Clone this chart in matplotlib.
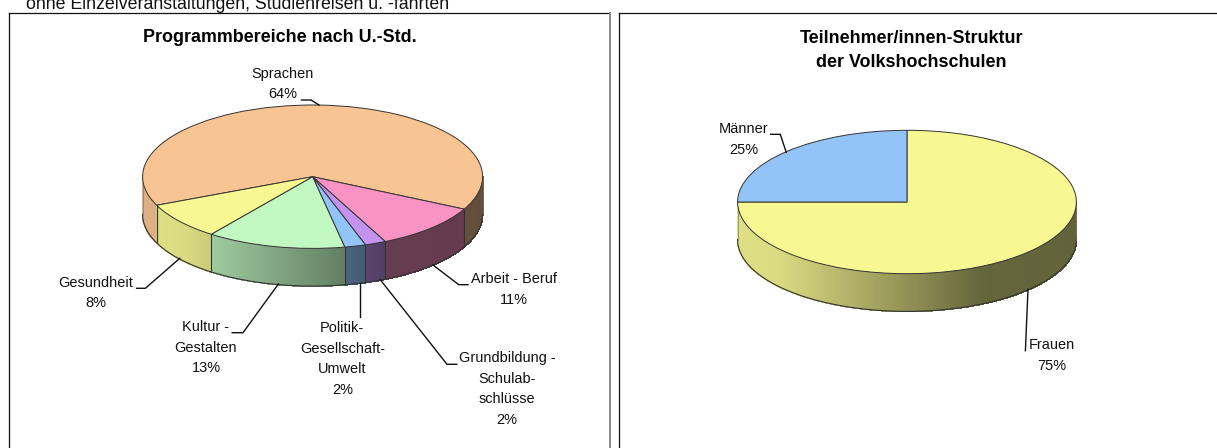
"""
Two 3D-look pie charts (Volkshochschulen), drawn in matplotlib.
Pie tops use ax.pie, the rims are thin shaded strips under them.
"""

import numpy as np
import matplotlib
matplotlib.use("Agg")
import matplotlib.pyplot as plt
from matplotlib.collections import PolyCollection
from matplotlib.colors import to_rgb

# left pie
prog_names = ["Sprachen", "Arbeit - Beruf", "Grundbildung -\nSchulab-\nschlüsse",
              "Politik-\nGesellschaft-\nUmwelt", "Kultur -\nGestalten", "Gesundheit"]
prog_shares = [64.0, 10.5, 2.0, 2.0, 13.2, 8.3]
prog_pct = [64, 11, 2, 2, 13, 8]
prog_colors = ["#F8C493", "#F893C4", "#C493F0", "#93C4F8", "#C2F8C2", "#F8F893"]

# right pie
tn_names = ["Frauen", "Männer"]
tn_shares = [75, 25]
tn_colors = ["#F8F893", "#93C4F8"]

W, H = 1217, 448
FONT = "Liberation Sans"
LABEL_PX = 14.5
DEPTH = 37.7
RX, RY = 170, 71.7
EDGE = "#333333"

plt.rcParams["font.family"] = FONT
fig = plt.figure(figsize=(W / 100, H / 100), dpi=100, facecolor="white")


def px(size):
    return size * 72 / fig.dpi


def shade(x):
    """Rim brightness, light on the left and dark on the right."""
    return np.interp(x, [-1, -0.75, 0.45, 1], [0.9, 0.88, 0.41, 0.4])


def draw_pie(cx, cy, rx, shares, colors, start):
    margin = 1.2
    d = DEPTH / RY
    left = (cx - margin * rx) / W
    bottom = 1 - (cy + margin * RY + DEPTH) / H
    ax = fig.add_axes([left, bottom, 2 * margin * rx / W, (2 * margin * RY + DEPTH) / H])
    ax.pie(shares, colors=colors, startangle=start, counterclock=False, radius=1,
           wedgeprops=dict(edgecolor=EDGE, linewidth=0.7))
    for w in ax.patches:
        w.set_zorder(3)

    ends = start - np.cumsum(shares) * 3.6
    begins = np.r_[start, ends[:-1]]
    polys, faces, cuts = [], [], []
    for a1, a0, col in zip(begins, ends, colors):
        rgb = np.array(to_rgb(col))
        for shift in (0, -360):
            lo, hi = max(a0 + shift, -180), min(a1 + shift, 0)
            if hi <= lo:
                continue
            t = np.radians(np.arange(lo, hi + 0.75, 0.75).clip(lo, hi))
            for t0, t1 in zip(t[:-1], t[1:]):
                x0, x1 = np.cos(t0), np.cos(t1)
                y0, y1 = np.sin(t0), np.sin(t1)
                polys.append([(x0, y0), (x1, y1), (x1, y1 - d), (x0, y0 - d)])
                faces.append(rgb * shade((x0 + x1) / 2))
        for a in (a0, a1):
            if -180 < ((a + 180) % 360) - 180 < 0:
                cuts.append(np.radians(a))
    ax.add_collection(PolyCollection(polys, facecolors=faces, edgecolors=faces,
                                     linewidths=0.6, antialiaseds=False, zorder=1))
    for a in set(cuts):
        ax.plot([np.cos(a)] * 2, [np.sin(a), np.sin(a) - d], color=EDGE, lw=0.8, zorder=2)
    arc = np.radians(np.linspace(-180, 0, 240))
    ax.plot(np.cos(arc), np.sin(arc) - d, color=EDGE, lw=0.8, zorder=2)
    for x in (-1, 1):
        ax.plot([x, x], [0, -d], color="#777777", lw=0.5, zorder=2)

    ax.set_aspect("auto")
    ax.set_xlim(-margin, margin)
    ax.set_ylim(-margin - d, margin)


draw_pie(312.6, 176.7, RX, prog_shares, prog_colors, 203.5)
draw_pie(907, 202, 169.4, tn_shares, tn_colors, 90)

# overlay in picture pixels for frames, titles, labels and leaders
ov = fig.add_axes([0, 0, 1, 1], zorder=5)
ov.set_xlim(0, W)
ov.set_ylim(H, 0)
ov.axis("off")

ov.plot([9, 9], [13.3, H], color="#111111", lw=0.9)
ov.plot([9, 609], [13.3, 13.3], color="#111111", lw=0.9)
ov.plot([609.5, 609.5], [13.3, H], color="#888888", lw=1.4)
ov.plot([618.5, 618.5], [13.3, H], color="#111111", lw=0.9)
ov.plot([618.5, W], [13.3, 13.3], color="#111111", lw=0.9)

ov.text(26, 9, "ohne Einzelveranstaltungen, Studienreisen u. -fahrten",
        fontsize=px(17.7), va="baseline", ha="left", color="#111111")
ov.text(280, 37.7, "Programmbereiche nach U.-Std.", fontsize=px(17.9),
        fontweight="bold", ha="center", va="center", color="black")
ov.text(911, 38.3, "Teilnehmer/innen-Struktur", fontsize=px(17.9),
        fontweight="bold", ha="center", va="center", color="black")
ov.text(911, 62.3, "der Volkshochschulen", fontsize=px(17.9),
        fontweight="bold", ha="center", va="center", color="black")


def label(name, pct, x, y, step=20.4):
    lines = name.split("\n") + [f"{pct}%"]
    for i, line in enumerate(lines):
        ov.text(x, y + i * step, line, fontsize=px(LABEL_PX), ha="center", va="center",
                color="#111111")


label_pos = [(283, 74), (514, 279.3), (507, 358.3), (342.3, 328.3), (206, 327.3), (95.8, 282.7)]
for name, pct, (x, y) in zip(prog_names, prog_pct, label_pos):
    label(name, pct, x, y)
label(tn_names[0], tn_shares[0], 1051.7, 345.3)
label(tn_names[1], tn_shares[1], 743.6, 129.3)

leaders = [
    [(301.5, 100), (311, 100), (319, 105)],
    [(433, 265), (458.8, 284.7), (468, 284.7)],
    [(380.5, 280), (447, 364.3), (456.8, 364.3)],
    [(360, 282.7), (360, 317.3)],
    [(232.2, 332.7), (243, 332.7), (278.4, 284)],
    [(136.6, 288.3), (145.4, 288.3), (179.8, 258.3)],
    [(770.7, 134.3), (780.3, 134.3), (786.2, 152.3)],
    [(1025.4, 350.7), (1028, 289.3)],
]
for pts in leaders:
    xs, ys = zip(*pts)
    ov.plot(xs, ys, color="#111111", lw=1.0, solid_joinstyle="miter")

fig.savefig("out.png", dpi=100)
plt.close(fig)
